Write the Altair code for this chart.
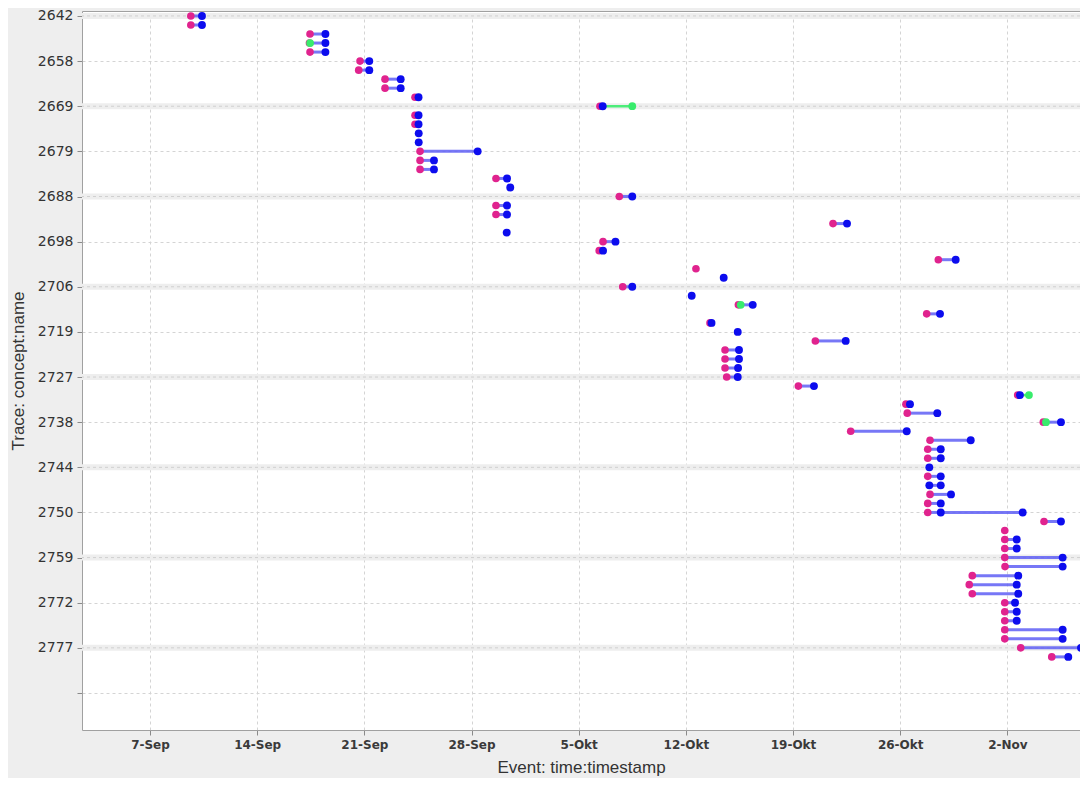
import json
import altair as alt
import pandas as pd

YEAR = "2011"

# y-axis labels (every 5th trace row)
trace_labels = ["2642", "2658", "2669", "2679", "2688", "2698", "2706", "2719",
                "2727", "2738", "2744", "2750", "2759", "2772", "2777"]
n_tick_rows = 16          # ticks every 5 rows: 0 .. 75
month_names = ["Jan", "Feb", "Mrt", "Apr", "Mei", "Jun", "Jul", "Aug",
               "Sep", "Okt", "Nov", "Dec"]
week_ticks = ["09-07", "09-14", "09-21", "09-28", "10-05", "10-12",
              "10-19", "10-26", "11-02"]
time_range = ["09-02 13:25", "11-06 17:51"]
row_range = [-0.55, 79.1]

# (trace row, timestamp) per event type
start_events = [
    (0, "09-09 16:00"), (1, "09-09 16:00"), (2, "09-17 10:50"), (3, "09-17 10:00"),
    (4, "09-17 10:50"), (5, "09-20 17:15"), (6, "09-20 15:10"), (7, "09-22 08:25"),
    (8, "09-22 08:25"), (9, "09-24 07:25"), (10, "10-06 09:20"), (11, "09-24 07:25"),
    (12, "09-24 07:25"), (15, "09-24 15:20"), (16, "09-24 15:20"), (17, "09-24 15:20"),
    (18, "09-29 14:20"), (20, "10-07 15:40"), (21, "09-29 14:20"), (22, "09-29 14:20"),
    (23, "10-21 14:40"), (25, "10-06 14:10"), (26, "10-06 08:10"), (27, "10-28 11:45"),
    (28, "10-12 15:50"), (30, "10-07 21:00"), (32, "10-15 10:20"), (33, "10-27 17:30"),
    (34, "10-13 13:50"), (36, "10-20 11:00"), (37, "10-14 13:25"), (38, "10-14 13:25"),
    (39, "10-14 13:25"), (40, "10-14 16:00"), (41, "10-19 08:20"), (42, "11-02 16:10"),
    (43, "10-26 09:00"), (44, "10-26 11:05"), (45, "11-04 08:20"), (46, "10-22 18:25"),
    (47, "10-27 22:45"), (48, "10-27 19:10"), (49, "10-27 19:10"), (51, "10-27 19:10"),
    (53, "10-27 22:45"), (54, "10-27 19:10"), (55, "10-27 19:10"), (56, "11-04 09:25"),
    (57, "11-01 19:55"), (58, "11-01 19:55"), (59, "11-01 19:55"), (60, "11-01 19:55"),
    (61, "11-01 20:20"), (62, "10-30 17:00"), (63, "10-30 12:15"), (64, "10-30 17:00"),
    (65, "11-01 19:55"), (66, "11-01 19:55"), (67, "11-01 19:55"), (68, "11-01 19:55"),
    (69, "11-01 19:55"), (70, "11-02 20:55"), (71, "11-04 21:35"),
]
complete_events = [
    (0, "09-10 09:30"), (1, "09-10 09:30"), (2, "09-18 11:00"), (3, "09-18 11:00"),
    (4, "09-18 11:00"), (5, "09-21 07:45"), (6, "09-21 07:45"), (7, "09-23 09:00"),
    (8, "09-23 09:00"), (9, "09-24 13:00"), (10, "10-06 13:40"), (11, "09-24 13:00"),
    (12, "09-24 13:00"), (13, "09-24 13:15"), (14, "09-24 13:15"), (15, "09-28 09:40"),
    (16, "09-25 13:10"), (17, "09-25 13:10"), (18, "09-30 07:40"), (19, "09-30 12:45"),
    (20, "10-08 12:00"), (21, "09-30 07:40"), (22, "09-30 07:40"), (23, "10-22 12:40"),
    (24, "09-30 07:10"), (25, "10-07 09:40"), (26, "10-06 14:10"), (27, "10-29 15:00"),
    (29, "10-14 11:20"), (30, "10-08 12:00"), (31, "10-12 09:10"), (32, "10-16 08:50"),
    (33, "10-28 14:25"), (34, "10-13 16:15"), (35, "10-15 09:20"), (36, "10-22 10:35"),
    (37, "10-15 11:20"), (38, "10-15 11:20"), (39, "10-15 09:50"), (40, "10-15 09:20"),
    (41, "10-20 08:50"), (42, "11-02 19:40"), (43, "10-26 15:20"), (44, "10-28 10:10"),
    (45, "11-05 12:00"), (46, "10-26 10:15"), (47, "10-30 14:35"), (48, "10-28 15:35"),
    (49, "10-28 15:35"), (50, "10-27 21:40"), (51, "10-28 15:35"), (52, "10-27 21:40"),
    (52, "10-28 15:35"), (53, "10-29 07:40"), (54, "10-28 15:35"), (55, "10-28 15:35"),
    (55, "11-03 00:00"), (56, "11-05 12:00"), (58, "11-02 14:40"), (59, "11-02 14:40"),
    (60, "11-05 14:40"), (61, "11-05 14:40"), (62, "11-02 17:05"), (63, "11-02 14:40"),
    (64, "11-02 17:05"), (65, "11-02 12:00"), (66, "11-02 14:40"), (67, "11-02 14:40"),
    (68, "11-05 14:40"), (69, "11-05 14:40"), (70, "11-06 19:25"), (71, "11-05 23:30"),
]
other_events = [
    (3, "09-17 11:00"), (10, "10-08 12:00"), (32, "10-15 14:00"),
    (42, "11-03 09:50"), (45, "11-04 12:30"),
]


def ms(t):
    return int(pd.Timestamp(f"{YEAR}-{t}", tz="UTC").value // 10**6)


def frame(events, kind):
    return pd.DataFrame({"row": [r for r, _ in events],
                         "time": [ms(t) for _, t in events],
                         "kind": kind})


pts = pd.concat([frame(start_events, "start"), frame(complete_events, "complete"),
                 frame(other_events, "other")], ignore_index=True)

# segments between consecutive events of each trace, coloured by the later event
segs = []
for r, g in pts.sort_values(["row", "time"]).groupby("row"):
    rows = g.to_dict("records")
    for a, b in zip(rows[:-1], rows[1:]):
        segs.append({"row": r, "t1": a["time"], "t2": b["time"],
                     "seg": "green" if b["kind"] == "other" else "blue"})
segs = pd.DataFrame(segs)

band_rows = pd.DataFrame({"row": [i * 5 for i in range(len(trace_labels)) if i % 2 == 0]})

label_expr_y = (f"round(datum.value/5) < {len(trace_labels)} ? "
                f"{json.dumps(trace_labels)}[round(datum.value/5)] : ''")
label_expr_x = (f"utcdate(datum.value) + '-' + "
                f"{json.dumps(month_names)}[utcmonth(datum.value)]")

x_scale = alt.Scale(type="utc", domain=[ms(time_range[0]), ms(time_range[1])], nice=False)
y_scale = alt.Scale(domain=row_range, reverse=True, nice=False, zero=False)

x_axis = alt.Axis(values=[ms(t + " 00:00") for t in week_ticks], labelExpr=label_expr_x,
                  title="Event: time:timestamp", grid=True, gridDash=[3, 3],
                  gridColor="#d4d4d4", tickSize=5, tickColor="#8a8a8a", domain=False,
                  labelFont="DejaVu Sans", labelFontSize=12, labelFontWeight="bold",
                  labelColor="#3a3a3a", labelPadding=4, labelFlush=False,
                  labelOverlap=False, titleFont="Liberation Sans", titleFontSize=17,
                  titleFontWeight="normal", titleColor="#333333", titleY=37,
                  titleBaseline="middle")
y_axis = alt.Axis(values=[i * 5 for i in range(n_tick_rows)], labelExpr=label_expr_y,
                  title="Trace: concept:name", grid=True, gridDash=[3, 3],
                  gridColor="#d4d4d4", tickSize=5, tickColor="#8a8a8a", domain=False,
                  labelFont="DejaVu Sans", labelFontSize=14, labelColor="#333333",
                  labelPadding=4, labelFlush=False, labelOverlap=False,
                  titleFont="Liberation Sans", titleFontSize=17, titleFontWeight="normal",
                  titleColor="#333333", titleX=-64, titleBaseline="middle")

Y = alt.Y("row:Q", scale=y_scale, axis=y_axis)
X1 = alt.X("t1:T", scale=x_scale, axis=x_axis)
Xp = alt.X("time:T", scale=x_scale, axis=x_axis)

bands = alt.Chart(band_rows).mark_rule(color="#eeeeee", strokeWidth=6).encode(y=Y)
band_grid = alt.Chart(band_rows).mark_rule(color="#d0d0d0", strokeWidth=1,
                                           strokeDash=[3, 3]).encode(y=Y)

seg_blue = alt.Chart(segs[segs.seg == "blue"]).mark_rule(
    color="#5f5ff5", strokeWidth=3, opacity=0.85).encode(x=X1, x2="t2:T", y=Y)
seg_green = alt.Chart(segs[segs.seg == "green"]).mark_rule(
    color="#4ded7a", strokeWidth=2.5).encode(x=X1, x2="t2:T", y=Y)

dots_start = alt.Chart(pts[pts.kind == "start"]).mark_circle(
    color="#e0238e", size=58, opacity=1).encode(x=Xp, y=Y)
dots_complete = alt.Chart(pts[pts.kind == "complete"]).mark_circle(
    color="#0c0cee", size=62, opacity=1).encode(x=Xp, y=Y)
dots_other = alt.Chart(pts[pts.kind == "other"]).mark_circle(
    color="#38ec6c", size=60, opacity=1).encode(x=Xp, y=Y)

chart = alt.layer(
    bands, band_grid, seg_blue, seg_green, dots_start, dots_complete, dots_other
).properties(
    width=998, height=719,
    autosize=alt.AutoSizeParams(type="none"),
    padding={"left": 74, "top": 3, "right": 0, "bottom": 48},
).configure(
    background="#eeeeee"
).configure_view(
    fill="#ffffff", stroke="#a0a0a0", strokeWidth=1
)

chart.save("out.html", embed_options={"renderer": "svg", "actions": False})
